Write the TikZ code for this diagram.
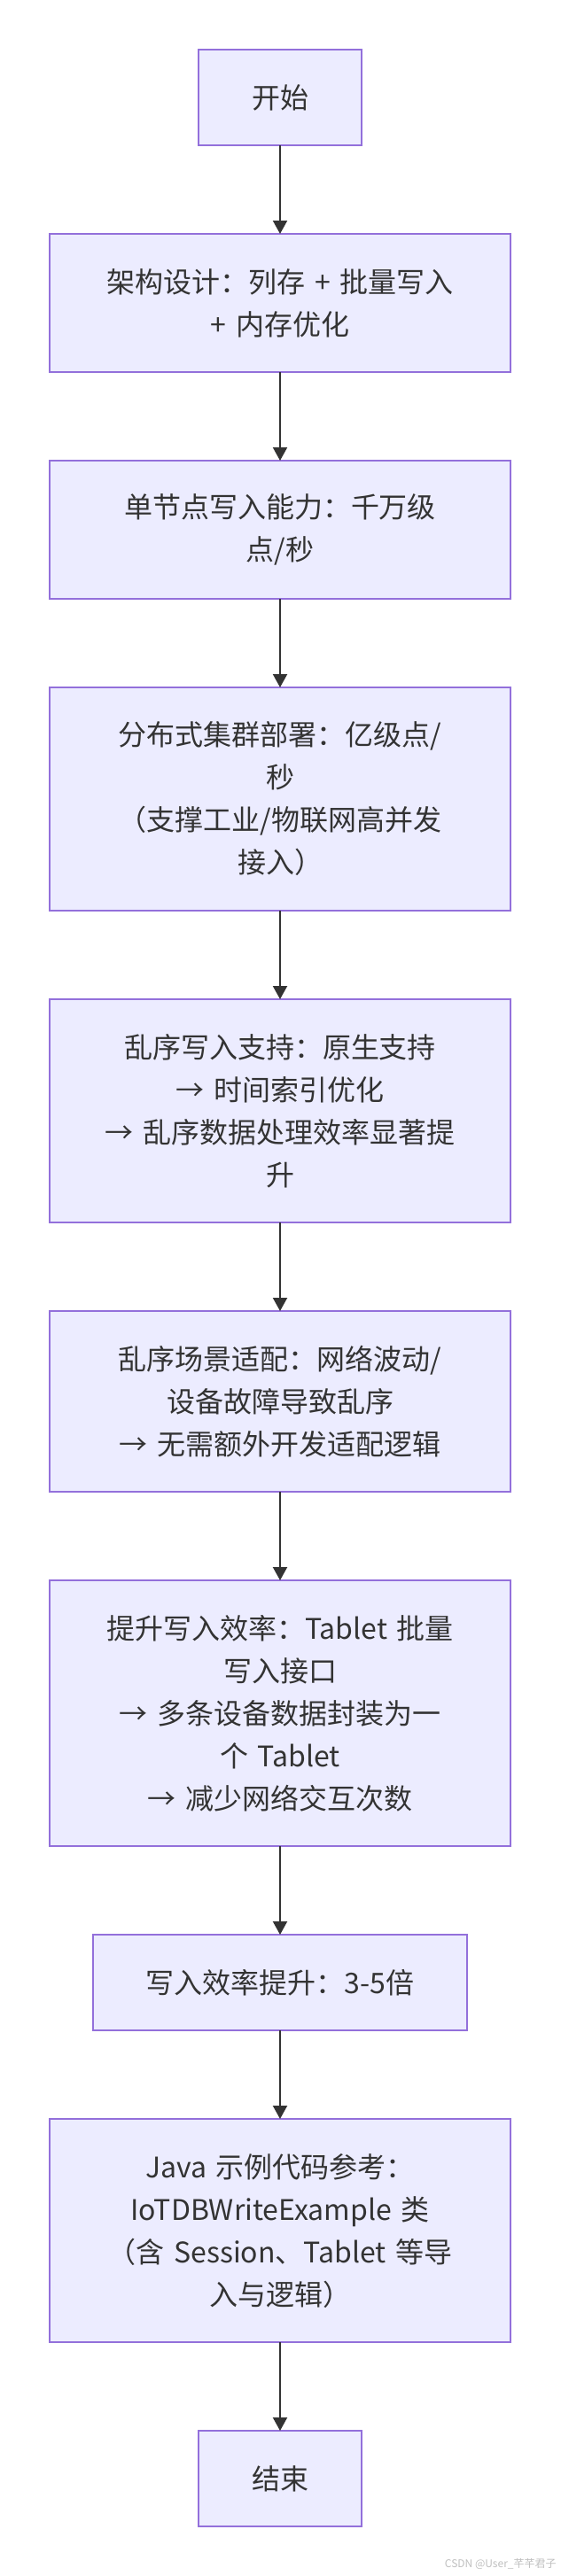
\documentclass[tikz,border=0pt]{standalone}
\usepackage{fontspec}
\setmainfont{Noto Sans CJK SC}
\usepackage{tikz}
\usetikzlibrary{arrows.meta,positioning}
\definecolor{flowfill}{HTML}{ECECFF}
\definecolor{flowborder}{HTML}{9370DB}
\definecolor{flowink}{HTML}{333333}

\begin{document}
\begin{tikzpicture}[>={Triangle[width=8pt,length=7.5pt]},line cap=butt,line join=miter,
 flowbox/.style={draw=flowborder,fill=flowfill,line width=1pt,outer sep=0pt,
  inner xsep=30pt,inner ysep=0pt,align=center,text=flowink,
  font=\fontsize{16}{24}\selectfont},
 widebox/.style={flowbox,text width=200pt},
 lines/.style={minimum height={30pt+24pt*#1}},
 flowline/.style={->,draw=flowink,line width=1pt}]
 \useasboundingbox (0,0) rectangle (316pt,-1454pt);
 \node[flowbox,lines=1,anchor=north] (start) at (158pt,-28pt) {开始};
 \node[widebox,lines=2,below=50pt of start] (arch)
  {架构设计：列存 + 批量写入\\+ 内存优化};
 \node[widebox,lines=2,below=50pt of arch] (single)
  {单节点写入能力：千万级\\点/秒};
 \node[widebox,lines=4,below=50pt of single] (cluster)
  {分布式集群部署：亿级点/\\秒\\（支撑工业/物联网高并发\\接入）};
 \node[widebox,lines=4,below=50pt of cluster] (order)
  {乱序写入支持：原生支持\\→ 时间索引优化\\→ 乱序数据处理效率显著提\\升};
 \node[widebox,lines=3,below=50pt of order] (scene)
  {乱序场景适配：网络波动/\\设备故障导致乱序\\→ 无需额外开发适配逻辑};
 \node[widebox,lines=5,below=50pt of scene] (tablet)
  {提升写入效率：Tablet 批量\\写入接口\\→ 多条设备数据封装为一\\个 Tablet\\→ 减少网络交互次数};
 \node[flowbox,lines=1,below=50pt of tablet] (gain)
  {写入效率提升：3-5倍};
 \node[widebox,lines=4,below=50pt of gain] (java)
  {Java 示例代码参考：\\IoTDBWriteExample 类\\（含 Session、Tablet 等导\\入与逻辑）};
 \node[flowbox,lines=1,below=50pt of java] (finish) {结束};
 \foreach \a/\b in {start/arch,arch/single,single/cluster,cluster/order,
  order/scene,scene/tablet,tablet/gain,gain/java,java/finish}{
  \draw[flowline] (\a) -- (\b);
 }
 \node[anchor=east,text=black!25,font=\fontsize{6}{7}\selectfont,inner sep=0pt]
  (mark) at (314pt,-1447pt) {CSDN @User\_芊芊君子};
\end{tikzpicture}
\end{document}
